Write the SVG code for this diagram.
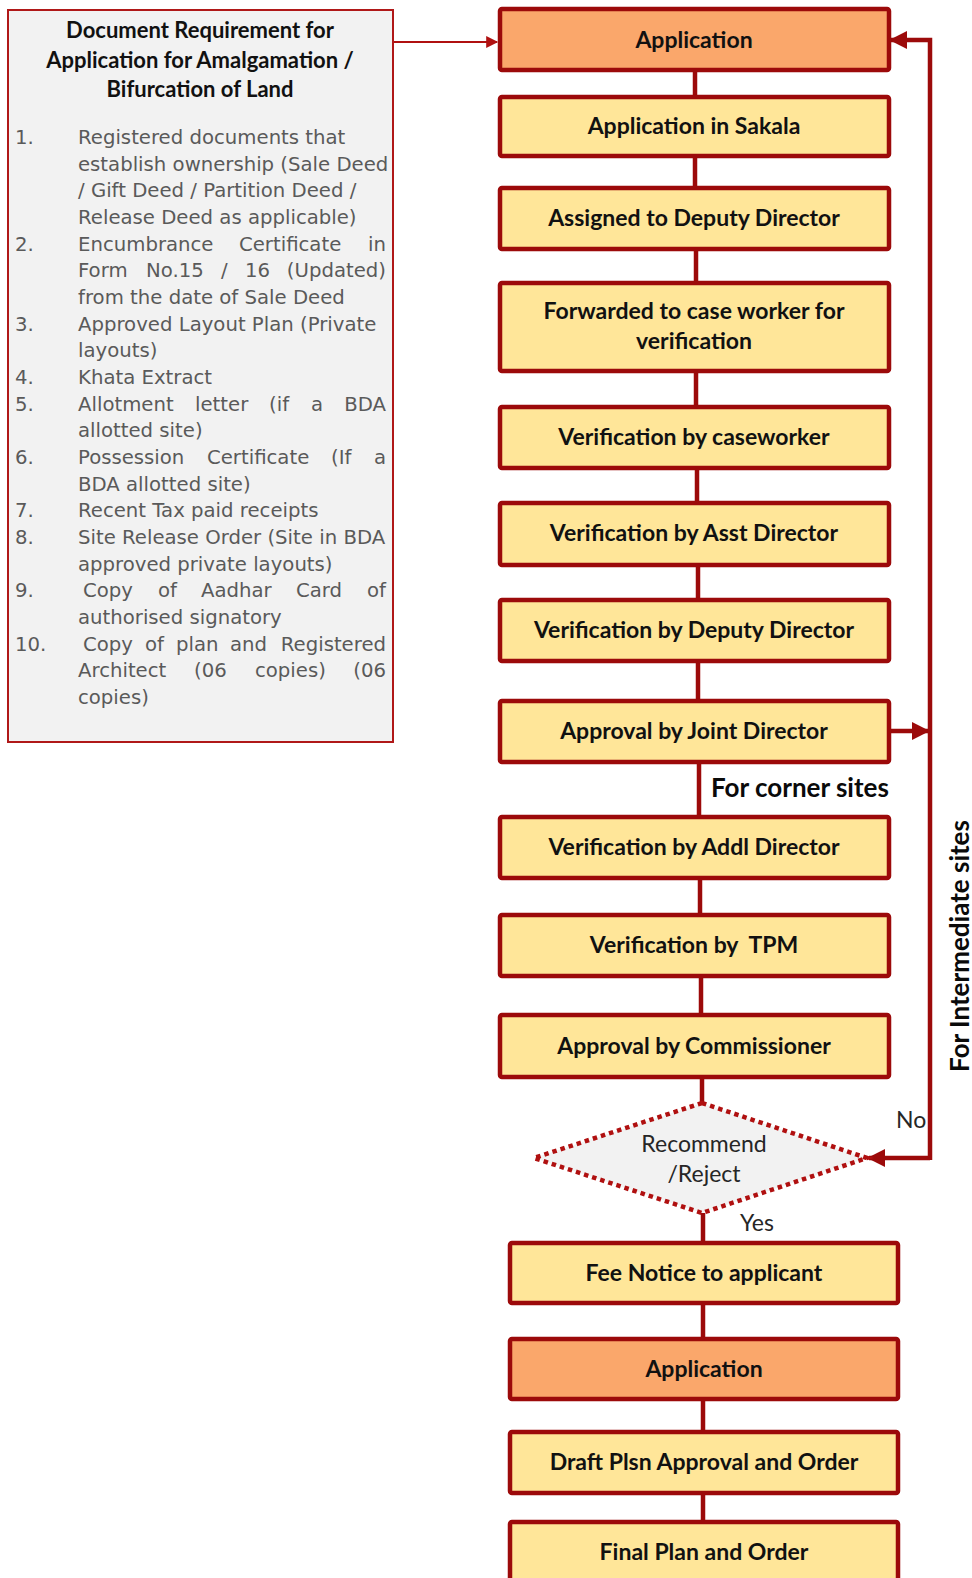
<svg xmlns="http://www.w3.org/2000/svg" width="972" height="1578" viewBox="0 0 972 1578">
<style>
.box{fill:#FFE699;stroke:#9C0A0A;stroke-width:4.5}
.org{fill:#FAA76B;stroke:#9C0A0A;stroke-width:4.5}
.lbl{font-family:Lato,"Liberation Sans",sans-serif;font-weight:bold;font-size:23px;fill:#111111;text-anchor:middle}
.con{stroke:#9C0A0A;stroke-width:4.5;fill:none}
.doc{font-family:"DejaVu Sans",Verdana,sans-serif;font-size:19.7px;fill:#5a5a5a}
.end{text-anchor:end}
.hd{font-family:Lato,"Liberation Sans",sans-serif;font-weight:bold;font-size:22px;fill:#111111;text-anchor:middle}
.reg{font-family:Lato,"Liberation Sans",sans-serif;font-size:23px;fill:#262626}
.big{font-family:Lato,"Liberation Sans",sans-serif;font-weight:bold;font-size:26px;fill:#0a0a0a}
</style>
<defs>
<marker id="ah" viewBox="0 0 10 10" refX="9" refY="5" markerWidth="4" markerHeight="4" orient="auto" markerUnits="strokeWidth">
<path d="M0,0 L10,5 L0,10 z" fill="#9C0A0A"/>
</marker>
<marker id="ah2" viewBox="0 0 10 10" refX="9" refY="5" markerWidth="7" markerHeight="6" orient="auto" markerUnits="strokeWidth">
<path d="M0,0 L10,5 L0,10 z" fill="#B01010"/>
</marker>
</defs>
<rect width="972" height="1578" fill="#ffffff"/>

<g id="connectors">
<line class="con" x1="695" y1="70" x2="695" y2="97"/>
<line class="con" x1="695" y1="156" x2="695" y2="188"/>
<line class="con" x1="696" y1="249" x2="696" y2="283"/>
<line class="con" x1="696" y1="371" x2="696" y2="407"/>
<line class="con" x1="697" y1="468" x2="697" y2="503"/>
<line class="con" x1="698" y1="565" x2="698" y2="600"/>
<line class="con" x1="698" y1="661" x2="698" y2="701"/>
<line class="con" x1="699" y1="762" x2="699" y2="817"/>
<line class="con" x1="700" y1="878" x2="700" y2="915"/>
<line class="con" x1="701" y1="976" x2="701" y2="1015"/>
<line class="con" x1="702" y1="1077" x2="702" y2="1103"/>
<line class="con" x1="703" y1="1213" x2="703" y2="1243"/>
<line class="con" x1="703" y1="1303" x2="703" y2="1339"/>
<line class="con" x1="703" y1="1399" x2="703" y2="1432"/>
<line class="con" x1="703" y1="1493" x2="703" y2="1522"/>
<line x1="393" y1="42" x2="497" y2="42" stroke="#B01010" stroke-width="2" marker-end="url(#ah2)"/>
<path class="con" d="M930,1158 H869" marker-end="url(#ah)"/>
<path class="con" d="M930,1160 V40 H891" marker-end="url(#ah)"/>
<path class="con" d="M889,731 H928" marker-end="url(#ah)"/>
</g>

<g id="docreq">
<rect x="8" y="10" width="385" height="732" fill="#F2F2F2" stroke="#B01818" stroke-width="2"/>
<text class="hd" x="200" y="38">Document Requirement for</text>
<text class="hd" x="200" y="68">Application for Amalgamation /</text>
<text class="hd" x="200" y="97">Bifurcation of Land</text>
<text class="doc">
<tspan x="15" y="144">1.</tspan><tspan x="78" y="144">Registered documents that</tspan>
<tspan x="78" y="171">establish ownership (Sale Deed</tspan>
<tspan x="78" y="197">/ Gift Deed / Partition Deed /</tspan>
<tspan x="78" y="224">Release Deed as applicable)</tspan>
<tspan x="15" y="251">2.</tspan><tspan x="78" y="251">Encumbrance</tspan><tspan x="239" y="251">Certificate</tspan>
<tspan x="78" y="277">Form</tspan><tspan x="146" y="277">No.15</tspan><tspan x="221" y="277">/</tspan><tspan x="245" y="277">16</tspan>
<tspan x="78" y="304">from the date of Sale Deed</tspan>
<tspan x="15" y="331">3.</tspan><tspan x="78" y="331">Approved Layout Plan (Private</tspan>
<tspan x="78" y="357">layouts)</tspan>
<tspan x="15" y="384">4.</tspan><tspan x="78" y="384">Khata Extract</tspan>
<tspan x="15" y="411">5.</tspan><tspan x="78" y="411">Allotment</tspan><tspan x="195" y="411">letter</tspan><tspan x="269" y="411">(if</tspan><tspan x="311" y="411">a</tspan>
<tspan x="78" y="437">allotted site)</tspan>
<tspan x="15" y="464">6.</tspan><tspan x="78" y="464">Possession</tspan><tspan x="207" y="464">Certificate</tspan><tspan x="331" y="464">(If</tspan>
<tspan x="78" y="491">BDA allotted site)</tspan>
<tspan x="15" y="517">7.</tspan><tspan x="78" y="517">Recent Tax paid receipts</tspan>
<tspan x="15" y="544">8.</tspan><tspan x="78" y="544">Site Release Order (Site in BDA</tspan>
<tspan x="78" y="571">approved private layouts)</tspan>
<tspan x="15" y="597">9.</tspan><tspan x="83" y="597">Copy</tspan><tspan x="158" y="597">of</tspan><tspan x="201" y="597">Aadhar</tspan><tspan x="296" y="597">Card</tspan>
<tspan x="78" y="624">authorised signatory</tspan>
<tspan x="15" y="651">10.</tspan><tspan x="83" y="651">Copy</tspan><tspan x="145" y="651">of</tspan><tspan x="176" y="651">plan</tspan><tspan x="230" y="651">and</tspan>
<tspan x="78" y="677">Architect</tspan><tspan x="194" y="677">(06</tspan><tspan x="255" y="677">copies)</tspan>
<tspan x="78" y="704">copies)</tspan>
</text>
<text class="doc end" x="386" y="251">in</text>
<text class="doc end" x="386" y="277">(Updated)</text>
<text class="doc end" x="386" y="411">BDA</text>
<text class="doc end" x="386" y="464">a</text>
<text class="doc end" x="386" y="597">of</text>
<text class="doc end" x="386" y="651">Registered</text>
<text class="doc end" x="386" y="677">(06</text>
</g>

<g id="n1"><rect class="org" x="500" y="9" width="389" height="61" rx="2"/><text class="lbl" x="694" y="48">Application</text></g>
<g id="n2"><rect class="box" x="500" y="97" width="389" height="59" rx="2"/><text class="lbl" x="694" y="134">Application in Sakala</text></g>
<g id="n3"><rect class="box" x="500" y="188" width="389" height="61" rx="2"/><text class="lbl" x="694" y="226">Assigned to Deputy Director</text></g>
<g id="n4"><rect class="box" x="500" y="283" width="389" height="88" rx="2"/><text class="lbl" x="694" y="319">Forwarded to case worker for</text><text class="lbl" x="694" y="349">verification</text></g>
<g id="n5"><rect class="box" x="500" y="407" width="389" height="61" rx="2"/><text class="lbl" x="694" y="445">Verification by caseworker</text></g>
<g id="n6"><rect class="box" x="500" y="503" width="389" height="62" rx="2"/><text class="lbl" x="694" y="541">Verification by Asst Director</text></g>
<g id="n7"><rect class="box" x="500" y="600" width="389" height="61" rx="2"/><text class="lbl" x="694" y="638">Verification by Deputy Director</text></g>
<g id="n8"><rect class="box" x="500" y="701" width="389" height="61" rx="2"/><text class="lbl" x="694" y="739">Approval by Joint Director</text></g>
<g id="n9"><rect class="box" x="500" y="817" width="389" height="61" rx="2"/><text class="lbl" x="694" y="855">Verification by Addl Director</text></g>
<g id="n10"><rect class="box" x="500" y="915" width="389" height="61" rx="2"/><text class="lbl" x="694" y="953" xml:space="preserve">Verification by  TPM</text></g>
<g id="n11"><rect class="box" x="500" y="1015" width="389" height="62" rx="2"/><text class="lbl" x="694" y="1054">Approval by Commissioner</text></g>
<g id="d1"><polygon points="702,1103 867,1158 702,1213 534,1158" fill="#F2F2F2" stroke="#B01010" stroke-width="4.5" stroke-dasharray="4.5 4"/><text class="reg" x="704" y="1152" text-anchor="middle">Recommend</text><text class="reg" x="704" y="1182" text-anchor="middle">/Reject</text></g>
<g id="n12"><rect class="box" x="510" y="1243" width="388" height="60" rx="2"/><text class="lbl" x="704" y="1281">Fee Notice to applicant</text></g>
<g id="n13"><rect class="org" x="510" y="1339" width="388" height="60" rx="2"/><text class="lbl" x="704" y="1377">Application</text></g>
<g id="n14"><rect class="box" x="510" y="1432" width="388" height="61" rx="2"/><text class="lbl" x="704" y="1470">Draft Plsn Approval and Order</text></g>
<g id="n15"><rect class="box" x="510" y="1522" width="388" height="70" rx="2"/><text class="lbl" x="704" y="1560">Final Plan and Order</text></g>

<g id="labels">
<text class="big" x="711" y="797">For corner sites</text>
<text class="big" transform="translate(969,946) rotate(-90)" text-anchor="middle">For Intermediate sites</text>
<text class="reg" x="896" y="1128">No</text>
<text class="reg" x="740" y="1231">Yes</text>
</g>
</svg>
